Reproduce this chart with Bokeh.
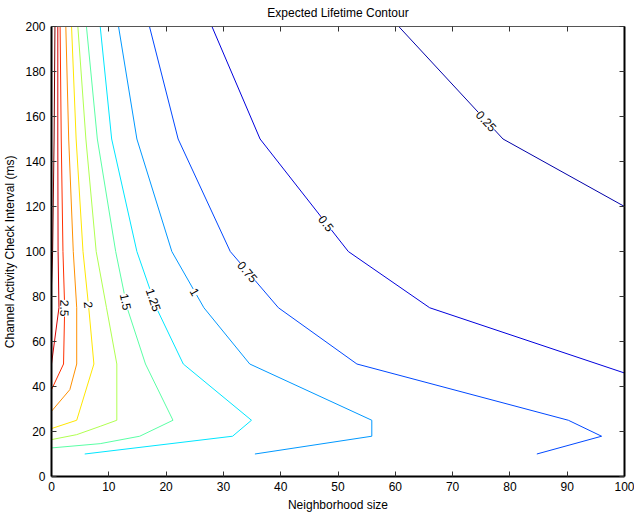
import math
from bokeh.plotting import figure
from bokeh.models import Range1d, LinearAxis, Label, FixedTicker
from bokeh.embed import file_html
from bokeh.resources import INLINE

# ---------------- data ----------------
x_ticks = list(range(0, 101, 10))
y_ticks = list(range(0, 201, 20))

levels = [0.25, 0.5, 0.75, 1.0, 1.25, 1.5, 1.75, 2.0, 2.25, 2.5, 2.75, 3.0]
level_text = ["0.25", "0.5", "0.75", "1", "1.25", "1.5", "1.75", "2", "2.25", "2.5", "2.75", "3"]

c025_x = [60.6, 78.8, 100.0]
c025_y = [200, 150, 120]
c050_x = [28.0, 36.4, 51.8, 66.0, 100.0]
c050_y = [200, 150, 100, 75, 46]
c075_x = [17.1, 22.1, 31.2, 39.6, 53.3, 90.2, 96.0, 84.7]
c075_y = [200, 150, 100, 75, 50, 25, 17.9, 10]
c100_x = [11.7, 14.9, 21.0, 26.6, 34.6, 55.9, 55.9, 35.5]
c100_y = [200, 150, 100, 75, 50, 25, 17.9, 10]
c125_x = [8.5, 10.5, 14.9, 18.3, 23.0, 34.9, 31.6, 5.8]
c125_y = [200, 150, 100, 75, 50, 25, 17.9, 10]
c150_x = [6.1, 8.0, 11.2, 13.2, 16.4, 21.2, 15.4, 8.5, 0.0]
c150_y = [200, 150, 100, 75, 50, 25, 17.9, 14.6, 12.7]
c175_x = [4.6, 6.0, 7.8, 9.6, 11.4, 11.4, 8.5, 4.4, 0.0]
c175_y = [200, 150, 100, 75, 50, 25, 22.3, 18.6, 16.4]
c200_x = [3.5, 4.3, 5.5, 6.5, 7.4, 4.4, 0.0]
c200_y = [200, 150, 100, 75, 50, 25, 21.3]
c225_x = [2.5, 3.0, 3.8, 4.4, 4.4, 3.2, 0.0]
c225_y = [200, 150, 100, 75, 50, 38.6, 29.0]
c250_x = [1.5, 1.7, 2.0, 2.3, 2.1, 0.0]
c250_y = [200, 150, 100, 75, 50, 38.6]
c275_x = [1.1, 1.1, 1.15, 1.3, 0.0]
c275_y = [200, 150, 100, 75, 50]
c300_x = [0.6, 0.45, 0.2, 0.0]
c300_y = [200, 150, 100, 85]

contour_xs = [c025_x, c050_x, c075_x, c100_x, c125_x, c150_x,
              c175_x, c200_x, c225_x, c250_x, c275_x, c300_x]
contour_ys = [c025_y, c050_y, c075_y, c100_y, c125_y, c150_y,
              c175_y, c200_y, c225_y, c250_y, c275_y, c300_y]

# inline labels: which level, and at what y the label sits on that line
label_levels = [0.25, 0.5, 0.75, 1.0, 1.25, 1.5, 2.0, 2.5]
label_y = [158.0, 112.5, 91.0, 82.0, 78.5, 77.7, 76.3, 74.8]

# ---------------- style ----------------
colors = ["#0000a8", "#0000dc", "#0048ff", "#0098ff", "#00e6ff", "#5affa5",
          "#b0ff50", "#ffe600", "#ff9000", "#ff3000", "#d40000", "#800000"]

W, H = 634, 514
LEFT, RIGHT, TOP, BOTTOM = 51, 10, 26, 37
FONT = "Liberation Sans"

p = figure(width=W, height=H, output_backend="svg", toolbar_location=None,
           x_range=Range1d(0, 100), y_range=Range1d(0, 200),
           min_border_left=LEFT, min_border_right=RIGHT,
           min_border_top=TOP, min_border_bottom=BOTTOM,
           title="Expected Lifetime Contour")
p.title.align = "center"
p.title.vertical_align = "top"
p.title.text_font = FONT
p.title.text_font_size = "12px"
p.title.text_font_style = "normal"
p.title.text_color = "#000000"
p.title.standoff = 9
p.xgrid.visible = False
p.ygrid.visible = False
p.outline_line_color = None
p.background_fill_color = "white"
p.border_fill_color = "white"

def style_axis(ax, ticks, show_labels, lw, lc):
    ax.ticker = FixedTicker(ticks=ticks)
    ax.major_tick_in = 5
    ax.major_tick_out = 0
    ax.minor_tick_in = 0
    ax.minor_tick_out = 0
    ax.major_tick_line_color = "#333333"
    ax.major_tick_line_width = 1
    ax.axis_line_color = lc
    ax.axis_line_width = lw
    ax.major_label_text_font = FONT
    if show_labels:
        ax.major_label_text_font_size = "12px"
        ax.major_label_text_color = "#000000"
    else:
        ax.major_label_text_font_size = "0px"
        ax.major_label_text_color = None
    ax.axis_label_text_font = FONT
    ax.axis_label_text_font_size = "12px"
    ax.axis_label_text_font_style = "normal"
    ax.axis_label_text_color = "#000000"

xa = p.xaxis[0]
ya = p.yaxis[0]
style_axis(xa, x_ticks, True, 2, "#000000")
style_axis(ya, y_ticks, True, 2, "#000000")
xa.axis_label = "Neighborhood size"
ya.axis_label = "Channel Activity Check Interval (ms)"
xa.major_label_standoff = 5
xa.axis_label_standoff = 4
ya.major_label_standoff = 6
ya.axis_label_standoff = 5

top_ax = LinearAxis()
style_axis(top_ax, x_ticks, False, 1, "#555555")
top_ax.major_label_standoff = 0
p.add_layout(top_ax, "above")
right_ax = LinearAxis()
style_axis(right_ax, y_ticks, False, 2, "#000000")
right_ax.major_label_standoff = 0
p.add_layout(right_ax, "right")

for xs, ys, c in zip(contour_xs, contour_ys, colors):
    p.line(xs, ys, line_color=c, line_width=1)

# approximate pixel scale of the frame, used only to orient label text
sx = (W - LEFT - RIGHT) / 100.0
sy = (H - TOP - BOTTOM) / 200.0

for lev, ly in zip(label_levels, label_y):
    i = levels.index(lev)
    xs, ys = contour_xs[i], contour_ys[i]
    for k in range(len(ys) - 1):
        y0, y1 = ys[k], ys[k + 1]
        if min(y0, y1) <= ly <= max(y0, y1) and y0 != y1:
            t = (ly - y0) / (y1 - y0)
            lx = xs[k] + t * (xs[k + 1] - xs[k])
            dx = (xs[k + 1] - xs[k]) * sx
            dy = (ys[k + 1] - ys[k]) * sy
            ang = math.degrees(math.atan2(dy, dx))
            break
    p.add_layout(Label(x=lx, y=ly, text=level_text[i], angle=ang, angle_units="deg",
                       text_align="center", text_baseline="middle",
                       text_font=FONT, text_font_size="12px", text_color="#000000",
                       background_fill_color="white"))

open("out.html", "w").write(file_html(p, INLINE))
